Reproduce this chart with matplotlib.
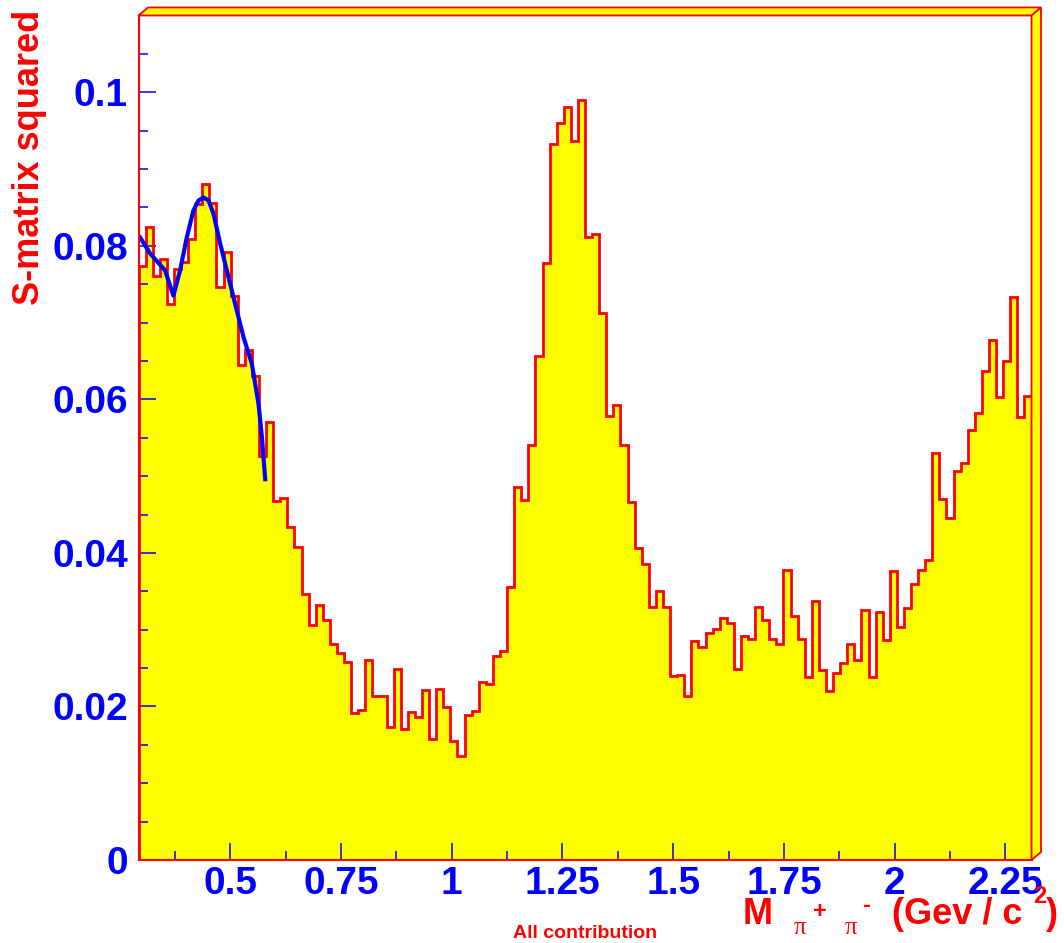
import numpy as np
import matplotlib.pyplot as plt
from matplotlib.patches import Polygon
from matplotlib.ticker import MultipleLocator, FuncFormatter

plt.rcParams['font.family'] = ['Liberation Sans', 'DejaVu Sans']
plt.rcParams['font.weight'] = 'bold'

# pi+ pi- invariant mass histogram: 126 bins of 0.016 GeV/c^2
x_start = 0.293
bin_width = 0.016
smatrix_sq = [
    0.0774, 0.0824, 0.0761, 0.0783, 0.0724, 0.0770, 0.0779, 0.0809, 0.0855, 0.0880,
    0.0856, 0.0746, 0.0792, 0.0734, 0.0645, 0.0664, 0.0631, 0.0526, 0.0570, 0.0468,
    0.0471, 0.0434, 0.0408, 0.0346, 0.0306, 0.0332, 0.0312, 0.0281, 0.0270, 0.0258,
    0.0191, 0.0196, 0.0261, 0.0213, 0.0213, 0.0173, 0.0249, 0.0170, 0.0193, 0.0186,
    0.0221, 0.0158, 0.0223, 0.0199, 0.0155, 0.0136, 0.0189, 0.0194, 0.0232, 0.0229,
    0.0266, 0.0272, 0.0355, 0.0486, 0.0469, 0.0540, 0.0656, 0.0778, 0.0933, 0.0960,
    0.0981, 0.0936, 0.0990, 0.0812, 0.0815, 0.0712, 0.0578, 0.0592, 0.0540, 0.0466,
    0.0406, 0.0386, 0.0330, 0.0351, 0.0330, 0.0240, 0.0241, 0.0213, 0.0285, 0.0278,
    0.0296, 0.0301, 0.0315, 0.0309, 0.0249, 0.0292, 0.0288, 0.0329, 0.0312, 0.0288,
    0.0281, 0.0378, 0.0318, 0.0288, 0.0239, 0.0338, 0.0248, 0.0220, 0.0243, 0.0257,
    0.0281, 0.0260, 0.0326, 0.0238, 0.0323, 0.0286, 0.0376, 0.0303, 0.0328, 0.0359,
    0.0378, 0.0391, 0.0530, 0.0470, 0.0446, 0.0507, 0.0517, 0.0560, 0.0582, 0.0637,
    0.0677, 0.0603, 0.0650, 0.0733, 0.0577, 0.0604,
]

# fitted curve over the low-mass region
fit_mass = [0.2964, 0.3190, 0.3529, 0.3717, 0.3868, 0.4020, 0.4169, 0.4284, 0.4395,
            0.4509, 0.4621, 0.4773, 0.5000, 0.5300, 0.5489, 0.5639, 0.5715, 0.5790]
fit_value = [0.0811, 0.0790, 0.0768, 0.0735, 0.0768, 0.0811, 0.0846, 0.0859, 0.0863,
             0.0859, 0.0842, 0.0803, 0.0750, 0.0681, 0.0646, 0.0594, 0.0551, 0.0496]

edges = x_start + bin_width * np.arange(len(smatrix_sq) + 1)

W, H = 1064, 943
fig = plt.figure(figsize=(W / 100, H / 100), dpi=100)
ax = fig.add_axes([0.1302, 0.0880, 0.8393, 0.8956])

ax.stairs(smatrix_sq, edges, fill=True, color='#ffff00', zorder=1)
ax.stairs(smatrix_sq, edges, color='#ff0000', lw=2.0, zorder=2)
ax.plot(fit_mass, fit_value, color='#0000ff', lw=3, zorder=3)

ax.set_xlim(edges[0], edges[-1])
ax.set_ylim(0, 0.11)

ax.xaxis.set_major_locator(MultipleLocator(0.25))
ax.xaxis.set_minor_locator(MultipleLocator(0.125))
ax.yaxis.set_major_locator(MultipleLocator(0.02))
ax.yaxis.set_minor_locator(MultipleLocator(0.005))
fmt = FuncFormatter(lambda v, _: f'{v:g}')
ax.xaxis.set_major_formatter(fmt)
ax.yaxis.set_major_formatter(fmt)

ax.tick_params(which='both', direction='in', color='#0000ff', width=1.1,
               top=False, right=False)
ax.tick_params(which='major', length=12.5, labelsize=28, labelcolor='#0000ff')
ax.tick_params(which='minor', length=6.3)
ax.tick_params(axis='x', pad=4.5)
ax.tick_params(axis='y', pad=7.5)

for s in ax.spines.values():
    s.set_color('#ff0000')
    s.set_linewidth(1.5)
    s.set_zorder(4)

# raised frame border along top and right
pos = ax.get_position()
dx, dy = 9.5 / W, 8 / H
top_face = [(pos.x0, pos.y1), (pos.x0 + dx, pos.y1 + dy),
            (pos.x1 + dx, pos.y1 + dy), (pos.x1, pos.y1)]
right_face = [(pos.x1, pos.y1), (pos.x1 + dx, pos.y1 + dy),
              (pos.x1 + dx, pos.y0 + dy), (pos.x1, pos.y0)]
for face in (top_face, right_face):
    fig.add_artist(Polygon(face, closed=True, facecolor='#ffff00', edgecolor='#ff0000',
                           lw=1.3, transform=fig.transFigure, clip_on=False))

# axis titles
fig.text(30 / W, 1 - 10 / H, 'S-matrix squared', rotation=90, ha='center', va='top',
         color='#ff0000', fontsize=26)


def title_piece(px, py, s, size, **kw):
    fig.text(px / W, 1 - py / H, s, ha='left', va='baseline', color='#ff0000',
             fontsize=size, **kw)


title_piece(743, 924, 'M', 26)
title_piece(794, 934, 'π', 18, family='Liberation Serif', fontweight='normal')
title_piece(813, 918, '+', 17)
title_piece(845, 934, 'π', 18, family='Liberation Serif', fontweight='normal')
title_piece(862, 912, '-', 17)
title_piece(892, 924, '(Gev / c', 26)
title_piece(1033, 903, '2', 17)
title_piece(1046, 924, ')', 26)

fig.text(585 / W, 1 - 938 / H, 'All contribution', ha='center', va='baseline',
         color='#ff0000', fontsize=14)

fig.savefig('out.png', dpi=100)
